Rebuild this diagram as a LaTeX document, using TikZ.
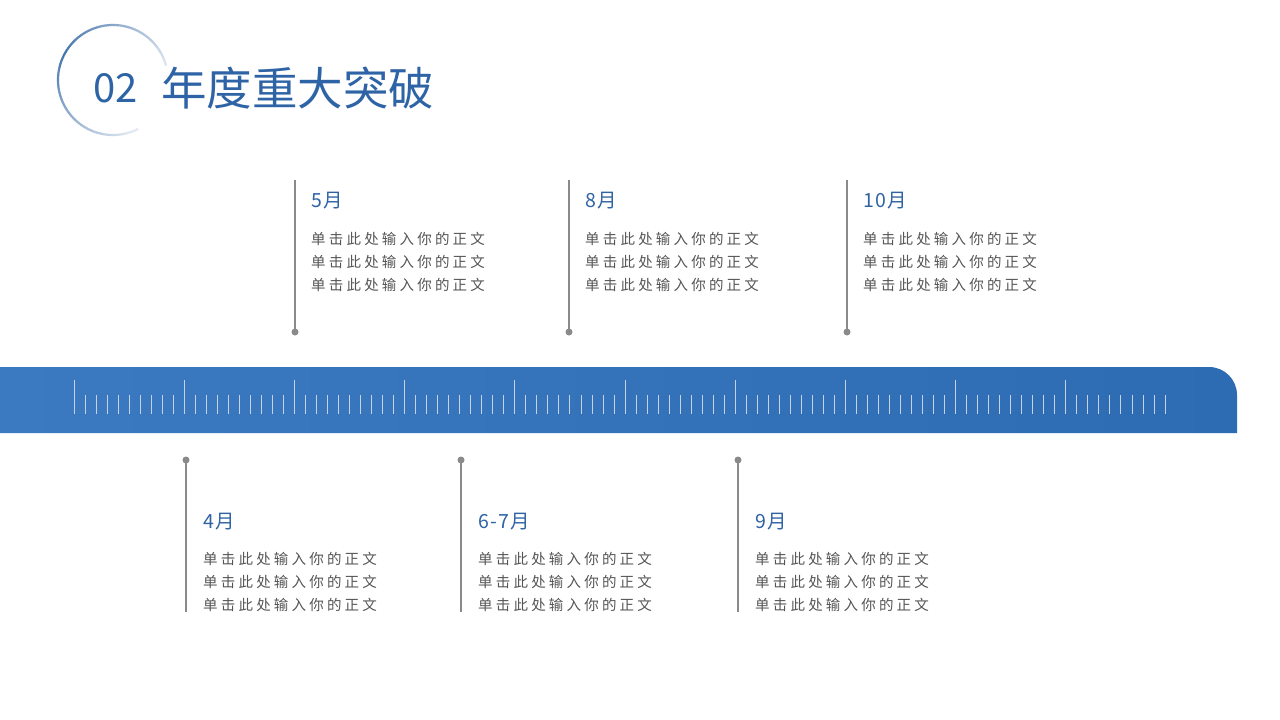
\documentclass[tikz,border=0pt]{standalone}
\usepackage{fontspec}
\setmainfont{Noto Sans CJK SC}
\newfontfamily\bodyfont[LetterSpace=22]{Noto Sans CJK SC}
\newfontfamily\labfont[LetterSpace=6]{Noto Sans CJK SC}
\definecolor{titleblue}{HTML}{2E64A6}
\definecolor{labblue}{HTML}{2F63A3}
\definecolor{bodygray}{HTML}{555555}
\definecolor{linegray}{HTML}{8A8A8A}
\definecolor{bandL}{HTML}{3B7AC0}
\definecolor{bandR}{HTML}{2D6CB3}
\definecolor{tickc}{HTML}{C6D2E4}
\definecolor{arcdark}{HTML}{4273AB}
\definecolor{arclight}{HTML}{E2E9F2}
\begin{document}
\begin{tikzpicture}[x=1pt,y=-1pt,
  lab/.style={anchor=west,inner sep=0pt,text=labblue,font=\labfont\fontsize{19.5}{20}\selectfont},
  body/.style={anchor=west,inner sep=0pt,text=bodygray,font=\bodyfont\fontsize{14.5}{16}\selectfont},
  stem/.style={draw=linegray,line width=1.4pt},
  dotc/.style={circle,fill=linegray,inner sep=0pt,minimum size=7pt},
  tick/.style={draw=tickc,line width=0.85pt}]
\useasboundingbox (0,0) rectangle (1280,720);
\fill[white] (0,0) rectangle (1280,720);
% title circle arc with fading
\foreach \a in {15,17,...,295}{
  \pgfmathsetmacro\m{max(0,min(100,100-abs(\a-150)*0.72))}
  \draw[draw=arcdark!\m!arclight,line width=2.2pt]
    ({113+55*cos(\a)},{80-55*sin(\a)}) -- ({113+55*cos(\a+2.2)},{80-55*sin(\a+2.2)});
}
\node[anchor=west,inner sep=0pt,text=titleblue,font=\fontsize{40}{44}\selectfont] (num) at (93,88) {02};
\node[anchor=west,inner sep=0pt,text=titleblue,font=\fontsize{45.5}{48}\selectfont] (title) at (161,88) {年度重大突破};
% band
\shade[left color=bandL,right color=bandR]
  (0,367) -- (1209,367) .. controls (1224.5,367) and (1237,379.5) .. (1237,395) -- (1237,433) -- (0,433) -- cycle;
% ticks
\foreach \i in {0,...,99}{
  \pgfmathsetmacro\xx{74+\i*11.02}
  \pgfmathtruncatemacro\r{mod(\i,10)}
  \ifnum\r=0
    \draw[tick] (\xx,380) -- (\xx,414);
  \else
    \draw[tick] (\xx,395) -- (\xx,414);
  \fi
}
% upper items
\foreach \n/\x/\t in {a/295/5月,b/569/8月,c/847/10月}{
  \coordinate (top\n) at (\x,180);
  \node[dotc] (dot\n) at (\x,332) {};
  \draw[stem] (top\n) -- (dot\n.center);
  \node[lab] (lab\n) at (\x+16,201) {\t};
  \node[body] (b1\n) at (\x+16,238.5) {单击此处输入你的正文};
  \node[body] (b2\n) at (\x+16,261.5) {单击此处输入你的正文};
  \node[body] (b3\n) at (\x+16,284.5) {单击此处输入你的正文};
}
% lower items
\foreach \n/\x/\t in {d/186/4月,e/461/6-7月,f/738/9月}{
  \node[dotc] (dot\n) at (\x,460) {};
  \coordinate (bot\n) at (\x,612);
  \draw[stem] (dot\n.center) -- (bot\n);
  \node[lab] (lab\n) at (\x+17,522) {\t};
  \node[body] (b1\n) at (\x+17,558.5) {单击此处输入你的正文};
  \node[body] (b2\n) at (\x+17,581.5) {单击此处输入你的正文};
  \node[body] (b3\n) at (\x+17,604.5) {单击此处输入你的正文};
}
\end{tikzpicture}
\end{document}
